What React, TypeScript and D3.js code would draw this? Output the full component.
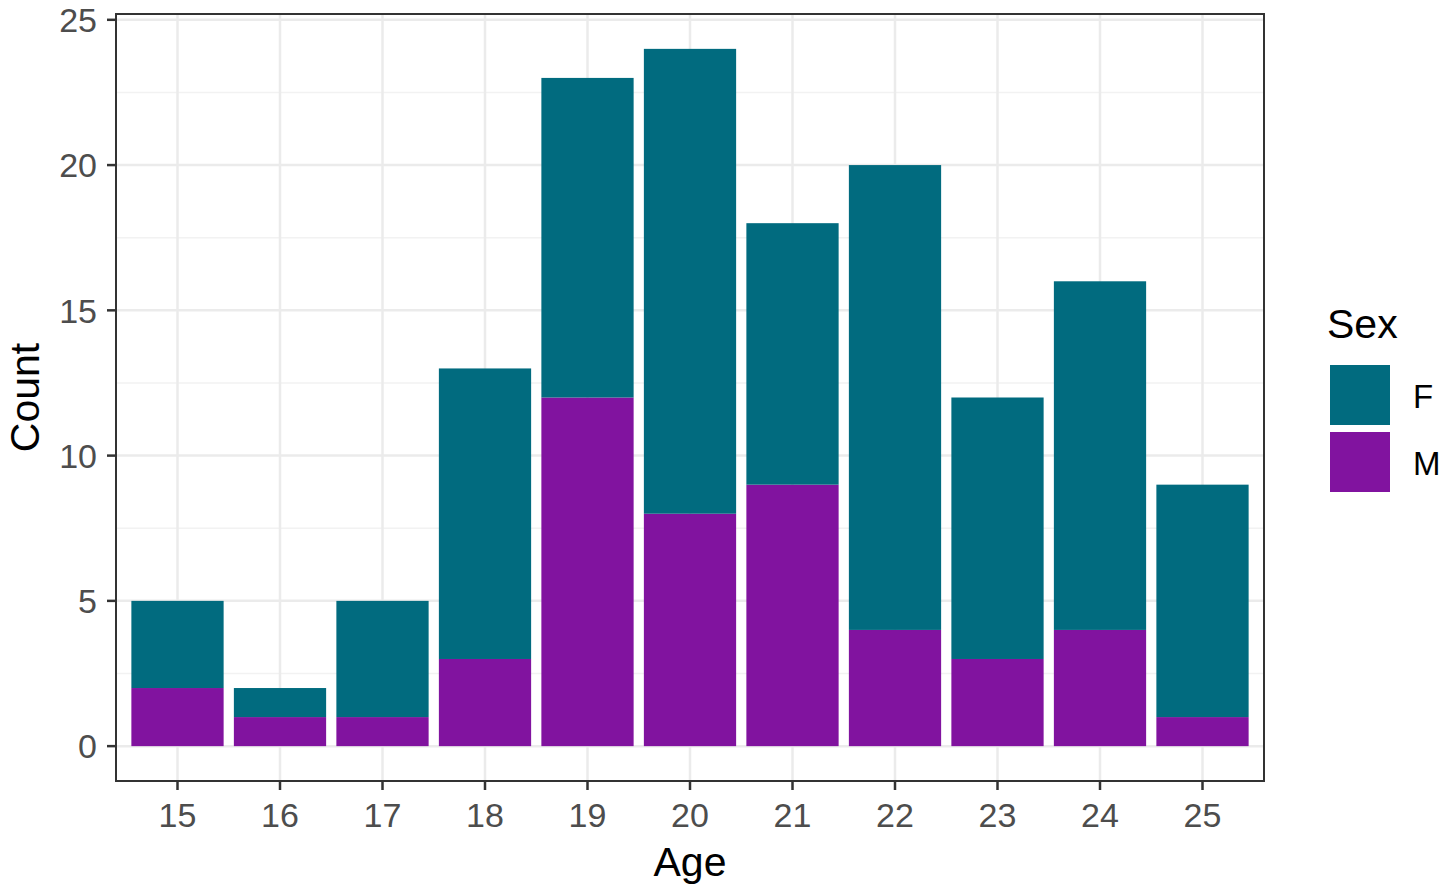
import React, { useRef, useEffect } from 'react';
import * as d3 from 'd3';

const ages = ['15', '16', '17', '18', '19', '20', '21', '22', '23', '24', '25'];
const femaleCounts = [3, 1, 4, 10, 11, 16, 9, 16, 9, 12, 8];
const maleCounts = [2, 1, 1, 3, 12, 8, 9, 4, 3, 4, 1];
const sexes = ['F', 'M'];
const sexColors = ['#016b7f', '#81139f'];
const yTicks = [0, 5, 10, 15, 20, 25];

const W = 1451;
const H = 894;

const App = () => {
  const ref = useRef<SVGSVGElement>(null);

  useEffect(() => {
    const svg = d3.select(ref.current);
    svg.selectAll('*').remove();

    const left = 116, right = 1264, top = 14, bottom = 781;

    const totals = ages.map((a, i) => femaleCounts[i] + maleCounts[i]);
    const maxY = d3.max(totals) as number;
    const pad = maxY * 0.05;

    // ggplot-like discrete expansion: 0.6 of a step from first/last centre to the edge
    const x = d3.scaleBand().domain(ages).range([left, right]).paddingInner(0.1).paddingOuter(0.15);
    const y = d3.scaleLinear().domain([-pad, maxY + pad]).range([bottom, top]);

    // grid
    const grid = svg.append('g');
    const minor = d3.range(2.5, 25, 5);
    grid.selectAll('.minor').data(minor).enter().append('line')
      .attr('x1', left).attr('x2', right)
      .attr('y1', d => y(d)).attr('y2', d => y(d))
      .attr('stroke', '#f2f2f2').attr('stroke-width', 1.5);
    grid.selectAll('.majorY').data(yTicks).enter().append('line')
      .attr('x1', left).attr('x2', right)
      .attr('y1', d => y(d)).attr('y2', d => y(d))
      .attr('stroke', '#ebebeb').attr('stroke-width', 2.5);
    grid.selectAll('.majorX').data(ages).enter().append('line')
      .attr('y1', top).attr('y2', bottom)
      .attr('x1', d => (x(d) as number) + x.bandwidth() / 2)
      .attr('x2', d => (x(d) as number) + x.bandwidth() / 2)
      .attr('stroke', '#ebebeb').attr('stroke-width', 2.5);

    // stacked bars: M at bottom, F on top
    const rows = ages.map((a, i) => ({ age: a, M: maleCounts[i], F: femaleCounts[i] }));
    const stack = d3.stack<any>().keys(['M', 'F'])(rows);
    const color = d3.scaleOrdinal<string>().domain(sexes).range(sexColors);

    svg.append('g').selectAll('g').data(stack).enter().append('g')
      .attr('fill', d => color(d.key))
      .selectAll('rect').data(d => d).enter().append('rect')
      .attr('x', d => x(d.data.age) as number)
      .attr('width', x.bandwidth())
      .attr('y', d => y(d[1]))
      .attr('height', d => y(d[0]) - y(d[1]));

    // panel border
    svg.append('rect')
      .attr('x', left).attr('y', top)
      .attr('width', right - left).attr('height', bottom - top)
      .attr('fill', 'none').attr('stroke', '#333').attr('stroke-width', 2);

    // y axis
    const yAxis = svg.append('g');
    yTicks.forEach(t => {
      yAxis.append('line')
        .attr('x1', left - 9).attr('x2', left)
        .attr('y1', y(t)).attr('y2', y(t))
        .attr('stroke', '#333').attr('stroke-width', 2.5);
      yAxis.append('text')
        .attr('x', left - 19).attr('y', y(t))
        .attr('dy', '0.36em')
        .attr('text-anchor', 'end')
        .attr('font-size', 34)
        .attr('fill', '#4d4d4d')
        .text(t);
    });

    // x axis
    const xAxis = svg.append('g');
    ages.forEach(a => {
      const cx = (x(a) as number) + x.bandwidth() / 2;
      xAxis.append('line')
        .attr('x1', cx).attr('x2', cx)
        .attr('y1', bottom).attr('y2', bottom + 9)
        .attr('stroke', '#333').attr('stroke-width', 2.5);
      xAxis.append('text')
        .attr('x', cx).attr('y', bottom + 46)
        .attr('text-anchor', 'middle')
        .attr('font-size', 34)
        .attr('fill', '#4d4d4d')
        .text(a);
    });

    // axis titles
    svg.append('text')
      .attr('x', (left + right) / 2).attr('y', 876)
      .attr('text-anchor', 'middle')
      .attr('font-size', 41)
      .attr('fill', '#000')
      .text('Age');
    svg.append('text')
      .attr('transform', `translate(39, ${(top + bottom) / 2}) rotate(-90)`)
      .attr('text-anchor', 'middle')
      .attr('font-size', 41)
      .attr('fill', '#000')
      .text('Count');

    // legend
    const legend = svg.append('g');
    legend.append('text')
      .attr('x', 1327).attr('y', 338)
      .attr('font-size', 41)
      .attr('fill', '#000')
      .text('Sex');
    sexes.forEach((s, i) => {
      const ky = 365 + i * 67;
      legend.append('rect')
        .attr('x', 1330).attr('y', ky)
        .attr('width', 60).attr('height', 60)
        .attr('fill', color(s));
      legend.append('text')
        .attr('x', 1413).attr('y', ky + 31)
        .attr('dy', '0.36em')
        .attr('font-size', 33)
        .attr('fill', '#000')
        .text(s);
    });
  }, []);

  return (
    <svg
      ref={ref}
      width={W}
      height={H}
      style={{ position: 'absolute', left: 0, top: 0, background: '#fff', fontFamily: 'Arial, "Liberation Sans", sans-serif' }}
    />
  );
};

export default App;
